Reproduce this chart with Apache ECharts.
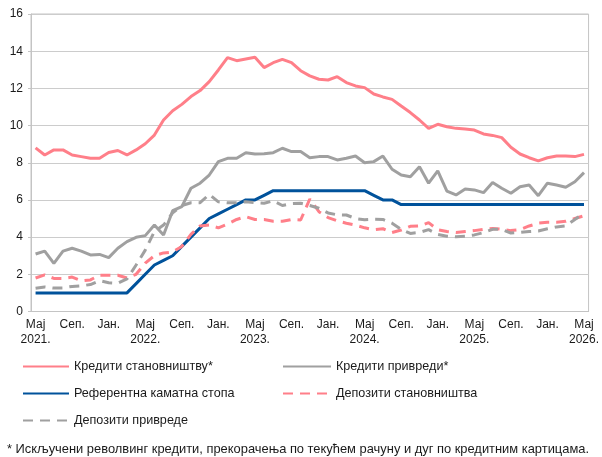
<!DOCTYPE html>
<html>
<head>
<meta charset="utf-8">
<script src="https://cdn.jsdelivr.net/npm/echarts@6/dist/echarts.min.js"></script>
<style>
  html, body { margin: 0; padding: 0; background: #fff; }
  #chart { width: 602px; height: 457px; }
</style>
</head>
<body>
<div id="chart"></div>
<script>
// months May 2021 .. May 2026
const years = [2021, 2022, 2023, 2024, 2025, 2026];
const monthLabels = ["Мај", "Јун", "Јул", "Авг", "Сеп.", "Окт", "Нов", "Дец", "Јан.", "Феб", "Мар", "Апр"];

const kreditiStanovnistvu = [
  8.8, 8.42, 8.69, 8.69, 8.42, 8.33, 8.24, 8.24, 8.55, 8.66, 8.42, 8.69,
  9.02, 9.49, 10.3, 10.8, 11.14, 11.56, 11.88, 12.36, 12.99, 13.65, 13.49, 13.58,
  13.67, 13.12, 13.38, 13.56, 13.38, 12.95, 12.67, 12.49, 12.45, 12.63, 12.31, 12.13,
  12.04, 11.7, 11.54, 11.41, 11.05, 10.7, 10.3, 9.85, 10.07, 9.94, 9.85, 9.82,
  9.76, 9.55, 9.47, 9.35, 8.83, 8.47, 8.27, 8.1, 8.27, 8.36, 8.36, 8.33,
  8.45
];
const kreditiPrivredi = [
  3.09, 3.25, 2.59, 3.25, 3.4, 3.25, 3.04, 3.07, 2.9, 3.4, 3.76, 3.99,
  4.08, 4.65, 4.11, 5.42, 5.64, 6.63, 6.9, 7.34, 8.06, 8.24, 8.24, 8.54,
  8.47, 8.48, 8.54, 8.78, 8.6, 8.6, 8.27, 8.33, 8.33, 8.15, 8.24, 8.36,
  8.0, 8.06, 8.36, 7.65, 7.34, 7.25, 7.79, 6.9, 7.56, 6.48, 6.27, 6.59,
  6.54, 6.39, 6.94, 6.63, 6.36, 6.71, 6.8, 6.23, 6.9, 6.8, 6.68, 6.98,
  7.47
];
const referentnaStopa = [
  1.0, 1.0, 1.0, 1.0, 1.0, 1.0, 1.0, 1.0, 1.0, 1.0, 1.0, 1.5,
  2.0, 2.5, 2.75, 3.0, 3.5, 4.0, 4.5, 5.0, 5.25, 5.5, 5.75, 6.0,
  6.0, 6.25, 6.5, 6.5, 6.5, 6.5, 6.5, 6.5, 6.5, 6.5, 6.5, 6.5,
  6.5, 6.25, 6.0, 6.0, 5.75, 5.75, 5.75, 5.75, 5.75, 5.75, 5.75, 5.75,
  5.75, 5.75, 5.75, 5.75, 5.75, 5.75, 5.75, 5.75, 5.75, 5.75, 5.75, 5.75,
  5.75
];
const depozitiStanovnistva = [
  1.8, 1.97, 1.78, 1.78, 1.85, 1.65, 1.7, 1.95, 1.95, 1.95, 1.8, 2.0,
  2.6, 3.0, 3.15, 3.2, 3.5, 4.15, 4.6, 4.65, 4.5, 4.7, 4.95, 5.1,
  4.95, 4.95, 4.85, 4.85, 4.95, 4.92, 6.05, 5.37, 5.05, 4.88, 4.75, 4.65,
  4.5, 4.4, 4.45, 4.25, 4.38, 4.58, 4.6, 4.78, 4.4, 4.3, 4.25, 4.3,
  4.35, 4.42, 4.47, 4.42, 4.35, 4.4, 4.6, 4.75, 4.8, 4.8, 4.85, 5.0,
  5.15
];
const depozitiPrivrede = [
  1.25, 1.32, 1.26, 1.27, 1.35, 1.38, 1.45, 1.66, 1.55, 1.52, 1.75, 2.5,
  3.3, 4.3, 4.65, 5.3, 5.7, 5.85, 5.85, 6.3, 5.9, 5.85, 5.85, 5.9,
  5.85, 5.82, 5.95, 5.7, 5.8, 5.82, 5.7, 5.55, 5.3, 5.2, 5.19, 5.0,
  4.93, 4.96, 4.95, 4.75, 4.42, 4.2, 4.25, 4.4, 4.15, 4.05, 4.02, 4.05,
  4.12, 4.24, 4.42, 4.42, 4.22, 4.25, 4.3, 4.33, 4.45, 4.55, 4.6, 4.95,
  5.28
];

const seriesNames = [
  "Кредити становништву*",
  "Кредити привреди*",
  "Референтна каматна стопа",
  "Депозити становништва",
  "Депозити привреде"
];
const footnote = "* Искључени револвинг кредити, прекорачења по текућем рачуну и дуг по кредитним картицама.";

// category labels, year shown under May
const categories = [];
for (let i = 0; i < 61; i++) {
  const m = i % 12;
  const y = years[0] + Math.floor((i + 4) / 12);
  categories.push(m === 0 ? monthLabels[m] + "\n" + y + "." : monthLabels[m]);
}

const pink = "#ff7f89";
const grey = "#a0a0a0";
const blue = "#00529b";
const font = '"Liberation Sans", Arial, sans-serif';

let chart = echarts.init(document.getElementById("chart"));

function legendAt(name, left, top, width) {
  return {
    data: [name],
    left: left,
    top: top,
    padding: 0,
    itemWidth: width,
    itemHeight: 14,
    itemStyle: { opacity: 0 },
    textStyle: { fontFamily: font, fontSize: 12.6, color: "#1a1a1a" },
    selectedMode: false
  };
}

function line(name, data, color, dashed) {
  return {
    name: name,
    type: "line",
    data: data,
    symbol: "none",
    lineStyle: { color: color, width: 3, type: dashed ? [10, 7] : "solid" },
    itemStyle: { color: color }
  };
}

chart.setOption({
  animation: false,
  textStyle: { fontFamily: font },
  grid: {
    left: 31, right: 11, top: 14, height: 297.5,
    show: true, borderColor: "#c4c4c4", borderWidth: 1
  },
  legend: [
    legendAt(seriesNames[0], 22, 360, 46),
    legendAt(seriesNames[1], 282, 360, 48),
    legendAt(seriesNames[2], 22, 387, 46),
    legendAt(seriesNames[3], 282, 387, 48),
    legendAt(seriesNames[4], 22, 414, 46)
  ],
  xAxis: {
    type: "category",
    data: categories,
    boundaryGap: true,
    axisLine: { lineStyle: { color: "#c4c4c4", width: 1 } },
    axisTick: { interval: 3, length: 4, lineStyle: { color: "#b0b0b0" } },
    axisLabel: {
      interval: 3,
      color: "#1a1a1a",
      fontSize: 12,
      lineHeight: 15,
      margin: 6
    }
  },
  yAxis: {
    type: "value",
    min: 0,
    max: 16,
    interval: 2,
    axisLine: { show: true, lineStyle: { color: "#c4c4c4" } },
    axisTick: { show: true, length: 3, lineStyle: { color: "#c4c4c4" } },
    axisLabel: { color: "#1a1a1a", fontSize: 12, margin: 8 },
    splitLine: { lineStyle: { color: "#cccccc", width: 1.2 } }
  },
  graphic: [{
    type: "text",
    left: 7,
    top: 443,
    style: { text: footnote, font: "12.9px " + font, fill: "#1a1a1a" }
  }],
  series: [
    line(seriesNames[0], kreditiStanovnistvu, pink, false),
    line(seriesNames[1], kreditiPrivredi, grey, false),
    line(seriesNames[2], referentnaStopa, blue, false),
    line(seriesNames[3], depozitiStanovnistva, pink, true),
    line(seriesNames[4], depozitiPrivrede, grey, true)
  ]
});
</script>
</body>
</html>
